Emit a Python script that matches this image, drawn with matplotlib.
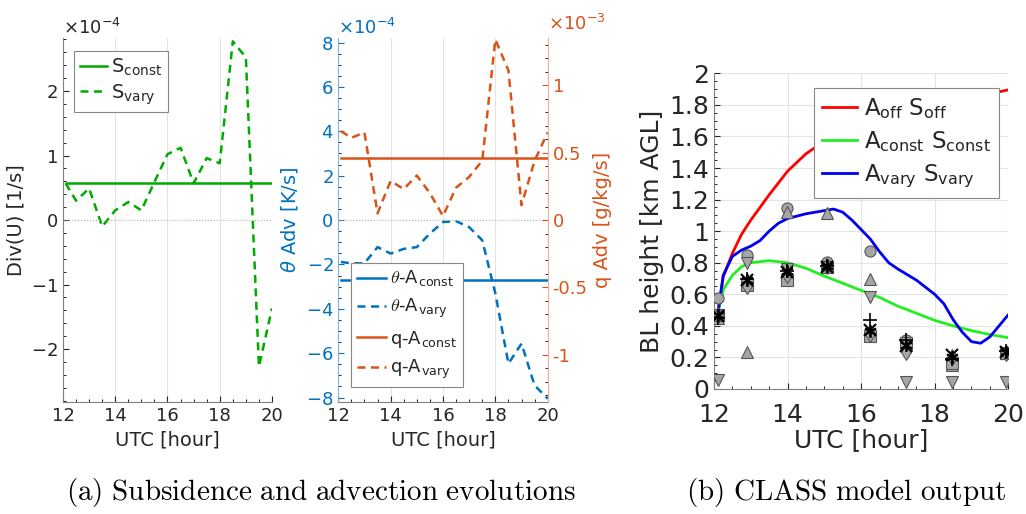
import numpy as np
import matplotlib
matplotlib.use("Agg")
import matplotlib.pyplot as plt
from matplotlib.ticker import AutoMinorLocator, FuncFormatter
from matplotlib.font_manager import FontProperties

plt.rcParams['font.family'] = ['DejaVu Sans']
plt.rcParams['axes.unicode_minus'] = False

# ---- data: panel (a) subsidence ----
t_half = [12.1, 12.5, 13.0, 13.5, 14.0, 14.5, 15.0, 15.5, 16.0, 16.5,
          17.0, 17.5, 18.0, 18.5, 19.0, 19.5, 20.0]
s_const = 0.57e-4
s_vary = [0.57e-4, 0.30e-4, 0.49e-4, -0.10e-4, 0.15e-4, 0.28e-4, 0.15e-4, 0.59e-4,
          1.02e-4, 1.12e-4, 0.57e-4, 0.96e-4, 0.88e-4, 2.77e-4, 2.52e-4, -2.27e-4, -1.37e-4]

# ---- data: panel (a) advection ----
th_const = -2.68e-4
th_vary = [-1.89e-4, -1.95e-4, -1.95e-4, -1.22e-4, -1.51e-4, -1.30e-4, -1.22e-4, -0.61e-4,
           -0.09e-4, -0.05e-4, -0.32e-4, -0.91e-4, -3.30e-4, -6.47e-4, -5.57e-4, -7.45e-4, -8.05e-4]
q_const = 0.46e-3
q_vary = [0.66e-3, 0.61e-3, 0.65e-3, 0.05e-3, 0.29e-3, 0.23e-3, 0.33e-3, 0.20e-3,
          0.03e-3, 0.24e-3, 0.32e-3, 0.44e-3, 1.34e-3, 1.11e-3, 0.11e-3, 0.44e-3, 0.65e-3]

# ---- data: panel (b) CLASS model ----
t_off = [12.1, 12.25, 12.5, 12.75, 13.0, 13.25, 13.5, 14.0, 14.5, 15.0, 15.5, 16.0,
         16.5, 17.0, 17.5, 18.0, 18.5, 19.0, 19.5, 20.0]
h_off = [0.47, 0.71, 0.86, 0.98, 1.07, 1.15, 1.23, 1.38, 1.49, 1.57, 1.63, 1.68,
         1.72, 1.75, 1.78, 1.81, 1.83, 1.85, 1.87, 1.895]
t_cst = [12.1, 12.25, 12.5, 12.75, 13.0, 13.5, 14.0, 14.5, 15.0, 15.5, 16.0, 16.5,
         17.0, 17.5, 18.0, 18.5, 19.0, 19.5, 20.0]
h_cst = [0.47, 0.63, 0.72, 0.775, 0.80, 0.813, 0.80, 0.765, 0.715, 0.67, 0.625, 0.58,
         0.525, 0.48, 0.435, 0.40, 0.37, 0.345, 0.325]
t_vry = [12.1, 12.25, 12.5, 12.75, 13.0, 13.25, 13.5, 13.75, 14.0, 14.5, 15.0, 15.25,
         15.5, 15.75, 16.0, 16.25, 16.5, 16.75, 17.0, 17.5, 18.0, 18.25, 18.5, 18.75,
         19.0, 19.25, 19.5, 19.75, 20.0]
h_vry = [0.47, 0.72, 0.84, 0.88, 0.905, 0.94, 1.0, 1.05, 1.08, 1.11, 1.13, 1.14,
         1.12, 1.07, 1.01, 0.95, 0.87, 0.80, 0.76, 0.69, 0.60, 0.54, 0.44, 0.36,
         0.30, 0.29, 0.33, 0.40, 0.47]

# observations
t_obs = [12.12, 12.89, 13.98, 15.06, 16.24, 17.23, 18.48, 19.94]
obs_circle = [0.575, 0.85, 1.145, 0.806, 0.875, 0.31, 0.17, 0.23]
obs_tri_up = [0.45, 0.236, 1.12, 1.113, 0.695, 0.28, 0.155, 0.23]
obs_tri_dn = [0.06, 0.80, 0.76, 0.77, 0.585, 0.046, 0.046, 0.046]
obs_square = [0.47, 0.66, 0.69, 0.77, 0.335, 0.29, 0.165, 0.23]
obs_diamond = [0.47, 0.65, 0.72, 0.78, 0.35, 0.236, 0.20, 0.23]
obs_plus = [0.45, 0.70, 0.75, 0.78, 0.437, 0.31, 0.19, 0.24]
obs_x = [0.46, 0.69, 0.74, 0.77, 0.374, 0.275, 0.215, 0.235]
obs_star = [0.47, 0.69, 0.745, 0.78, 0.37, 0.28, 0.205, 0.236]

bl_ticks = [0, 0.2, 0.4, 0.6, 0.8, 1.0, 1.2, 1.4, 1.6, 1.8, 2.0]

txt = '#262626'
axc = '#808080'
green_a = '#00AA00'
blue = '#0072BD'
orange = '#D95319'
dash = (0, (3.2, 2.2))

fig = plt.figure(figsize=(10.26, 5.14), dpi=100)


def style_axes(ax, fs):
    ax.tick_params(direction='in', labelsize=fs, colors=txt, length=4)
    ax.tick_params(which='minor', direction='in', length=2)
    for s in ['top', 'right']:
        ax.spines[s].set_visible(False)
    for s in ['left', 'bottom']:
        ax.spines[s].set_color(axc)
    ax.xaxis.set_minor_locator(AutoMinorLocator(4))
    ax.yaxis.set_minor_locator(AutoMinorLocator())


def legend_style(leg):
    leg.get_frame().set_linewidth(0.8)
    for t in leg.get_texts():
        t.set_color(txt)


# ---- panel 1 ----
ax1 = fig.add_axes([0.0614, 0.2179, 0.2037, 0.708])
ax1.plot([t_half[0], t_half[-1]], [s_const, s_const], color=green_a, lw=1.8, label=r'S$_\mathregular{const}$')
ax1.plot(t_half, s_vary, color=green_a, lw=1.8, ls=dash, label=r'S$_\mathregular{vary}$')
ax1.axhline(0, color='#b0b0b0', lw=0.8, ls=':')
ax1.set_xlim(12, 20)
ax1.set_ylim(-2.82e-4, 2.82e-4)
ax1.set_xticks([12, 14, 16, 18, 20])
ax1.set_yticks([-2e-4, -1e-4, 0, 1e-4, 2e-4])
ax1.grid(axis='x', color='#e3e3e3', lw=0.8)
style_axes(ax1, 13)
ax1.ticklabel_format(axis='y', style='sci', scilimits=(-4, -4), useMathText=True)
ax1.yaxis.get_offset_text().set_fontsize(13)
ax1.yaxis.get_offset_text().set_color(txt)
ax1.set_xlabel('UTC [hour]', fontsize=14, color=txt)
ax1.set_ylabel('Div(U) [1/s]', fontsize=14, color=txt)
leg1 = ax1.legend(loc='upper left', bbox_to_anchor=(0.0721, 0.9008), bbox_transform=fig.transFigure,
                  fontsize=14, frameon=True, fancybox=False, edgecolor='#888888', framealpha=1,
                  borderaxespad=0, handlelength=1.4, handletextpad=0.2, borderpad=0.3, labelspacing=0.2)
legend_style(leg1)

# ---- panel 2 ----
ax2 = fig.add_axes([0.3297, 0.2179, 0.2041, 0.708])
ax2b = ax2.twinx()
l1, = ax2.plot([t_half[0], t_half[-1]], [th_const, th_const], color=blue, lw=1.8)
l2, = ax2.plot(t_half, th_vary, color=blue, lw=1.8, ls=dash)
l3, = ax2b.plot([t_half[0], t_half[-1]], [q_const, q_const], color=orange, lw=1.8)
l4, = ax2b.plot(t_half, q_vary, color=orange, lw=1.8, ls=dash)
ax2.axhline(0, color='#b0b0b0', lw=0.8, ls=':')
ax2.set_xlim(12, 20)
ax2.set_ylim(-8.2e-4, 8.2e-4)
ax2b.set_ylim(-1.35e-3, 1.35e-3)
ax2.set_xticks([12, 14, 16, 18, 20])
ax2.set_yticks(np.arange(-8e-4, 8.1e-4, 2e-4))
ax2b.set_yticks([-1e-3, -0.5e-3, 0, 0.5e-3, 1e-3])
ax2.grid(axis='x', color='#e3e3e3', lw=0.8)
style_axes(ax2, 13)
ax2.tick_params(axis='y', colors=blue)
ax2.tick_params(axis='x', colors=txt)
ax2.spines['left'].set_color('#7fb3dc')
ax2b.tick_params(direction='in', labelsize=13, colors=orange, length=4)
ax2b.tick_params(which='minor', direction='in', length=2)
ax2b.yaxis.set_minor_locator(AutoMinorLocator())
for s in ['top', 'left', 'bottom']:
    ax2b.spines[s].set_visible(False)
ax2b.spines['right'].set_color('#eeb095')
ax2.ticklabel_format(axis='y', style='sci', scilimits=(-4, -4), useMathText=True)
ax2.yaxis.get_offset_text().set_fontsize(13)
ax2.yaxis.get_offset_text().set_color(blue)
ax2b.yaxis.set_major_formatter(FuncFormatter(lambda v, p: '%g' % round(v * 1e3, 3)))
ax2b.text(1.0, 1.012, r'$\times\mathregular{10}^{\mathregular{-3}}$', transform=ax2b.transAxes,
          fontsize=13, color=orange, ha='left', va='bottom')
ax2.set_xlabel('UTC [hour]', fontsize=14, color=txt)
ax2.set_ylabel(r'$\theta$ Adv [K/s]', fontsize=14, color=blue)
ax2b.set_ylabel('q Adv [g/kg/s]', fontsize=14, color=orange)
prop2 = FontProperties(family='DejaVu Sans', size=13, math_fontfamily='cm')
leg2 = ax2b.legend([l1, l2, l3, l4],
                   [r'$\theta$-A$_\mathregular{const}$', r'$\theta$-A$_\mathregular{vary}$',
                    r'q-A$_\mathregular{const}$', r'q-A$_\mathregular{vary}$'],
                   loc='upper left', bbox_to_anchor=(0.3418, 0.4889), bbox_transform=fig.transFigure,
                   prop=prop2, frameon=True, fancybox=False, edgecolor='#888888', framealpha=1,
                   borderaxespad=0, handlelength=1.6, handletextpad=0.2, borderpad=0.35, labelspacing=0.45)
legend_style(leg2)

# ---- panel 3 ----
ax3 = fig.add_axes([0.6959, 0.2432, 0.2868, 0.6142])
ax3.plot(t_off, h_off, color='#FF0000', lw=2, label=r'A$_\mathregular{off}$ S$_\mathregular{off}$')
ax3.plot(t_cst, h_cst, color='#22EE22', lw=2, label=r'A$_\mathregular{const}$ S$_\mathregular{const}$')
ax3.plot(t_vry, h_vry, color='#0000EE', lw=2, label=r'A$_\mathregular{vary}$ S$_\mathregular{vary}$')
mk = dict(ls='none', mfc='#a6a6a6', mec='#555555', mew=0.8, ms=8, zorder=3)
ax3.plot(t_obs, obs_circle, marker='o', **mk)
ax3.plot(t_obs, obs_tri_up, marker='^', **mk)
ax3.plot(t_obs, obs_tri_dn, marker='v', **mk)
ax3.plot(t_obs, obs_square, marker='s', **mk)
ax3.plot(t_obs, obs_diamond, marker='d', **mk)
ax3.plot(t_obs, obs_plus, ls='none', marker='+', color='k', ms=10, mew=1.2, zorder=4)
ax3.plot(t_obs, obs_x, ls='none', marker='x', color='k', ms=8, mew=1.5, zorder=4)
ax3.plot(t_obs, obs_star, ls='none', marker=(6, 2, 0), color='k', ms=9, mew=1.3, zorder=4)
ax3.set_xlim(12, 20)
ax3.set_ylim(0, 2)
ax3.set_xticks([12, 14, 16, 18, 20])
ax3.set_yticks(bl_ticks)
ax3.yaxis.set_major_formatter(FuncFormatter(lambda v, p: '%g' % round(v, 2)))
ax3.grid(color='#e3e3e3', lw=0.8)
ax3.set_axisbelow(True)
style_axes(ax3, 18)
ax3.tick_params(axis='x', pad=10)
ax3.set_xlabel('UTC [hour]', fontsize=18, color=txt, labelpad=1)
ax3.set_ylabel('BL height [km AGL]', fontsize=18, color=txt)
leg3 = ax3.legend(loc='upper left', bbox_to_anchor=(0.7937, 0.8282), bbox_transform=fig.transFigure,
                  fontsize=16.5, frameon=True, fancybox=False, edgecolor='#888888', framealpha=1,
                  borderaxespad=0, handlelength=1.5, handletextpad=0.3, borderpad=0.35, labelspacing=0.35)
legend_style(leg3)

# captions
fig.text(0.3125, 0.028, r'$\mathrm{(a)\ Subsidence\ and\ advection\ evolutions}$', fontsize=21,
         ha='center', math_fontfamily='cm')
fig.text(0.8245, 0.028, r'$\mathrm{(b)\ CLASS\ model\ output}$', fontsize=21,
         ha='center', math_fontfamily='cm')

fig.savefig('out.png', dpi=100, facecolor='white')
